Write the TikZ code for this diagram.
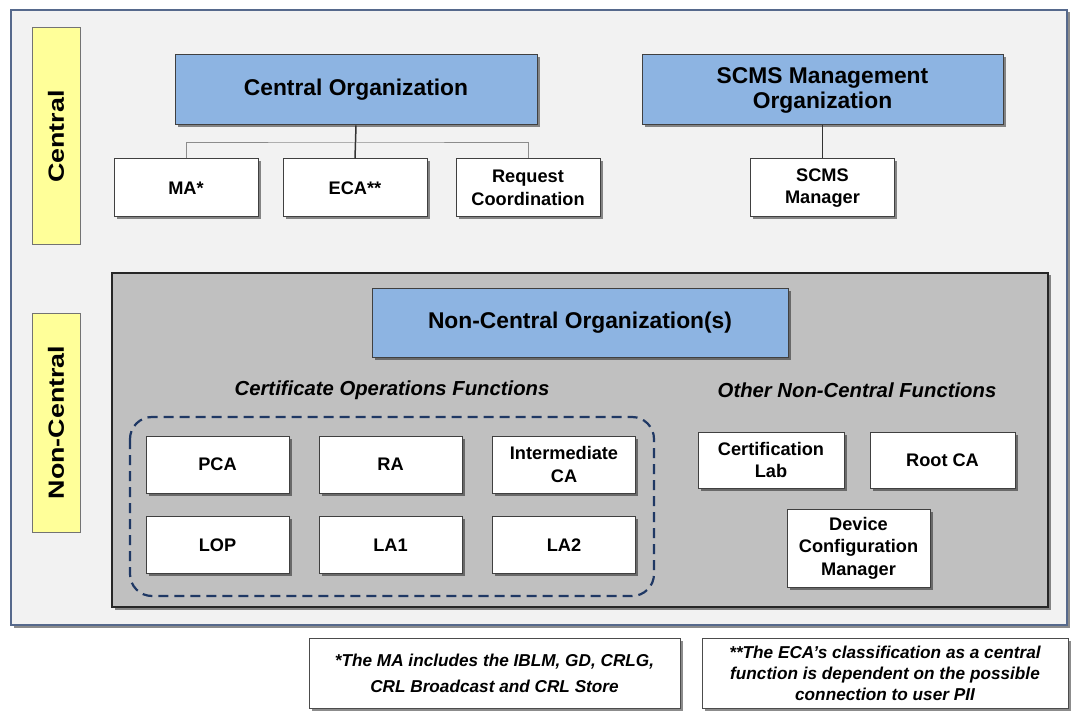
\documentclass[tikz,border=0pt]{standalone}
\usepackage{fontspec}
\setmainfont{Liberation Sans}
\usepackage{xcolor}
\usepackage{graphicx}
\usetikzlibrary{positioning, shadows}

\definecolor{framefill}{HTML}{F2F2F2}
\definecolor{frameline}{HTML}{56698C}
\definecolor{tieryellow}{HTML}{FFFF99}
\definecolor{orgblue}{HTML}{8DB4E2}
\definecolor{panelgray}{HTML}{C0C0C0}
\definecolor{dashblue}{HTML}{1F3864}

\newcommand{\tiertext}[1]{\scalebox{1.22}[1]{#1}}

\begin{document}
\begin{tikzpicture}[x=1pt, y=-1pt, every node/.style={inner sep=0pt, align=center},
    shade/.style={drop shadow={shadow xshift=2.5pt, shadow yshift=-2.5pt, opacity=0.45, fill=black}},
    tier/.style={draw=black!55, fill=tieryellow, line width=1pt, rotate=90, minimum height=48pt,
        font=\bfseries\fontsize{22}{26}\selectfont},
    orgbox/.style={shade, draw=black!75, fill=orgblue, line width=1pt, minimum height=70pt,
        font=\bfseries\fontsize{22.8}{25}\selectfont},
    funcbox/.style={shade, draw=black!75, fill=white, line width=1pt, minimum width=144pt, minimum height=57pt,
        font=\bfseries\fontsize{18.2}{22.5}\selectfont},
    grouplabel/.style={font=\bfseries\itshape\fontsize{20.3}{22}\selectfont},
    notebox/.style={shade, draw=black!70, fill=white, line width=1pt, minimum height=70pt,
        font=\bfseries\itshape\fontsize{17.2}{21}\selectfont}]
    \useasboundingbox (0,0) rectangle (1073,719);

    % Outer frame
    \draw[frameline, line width=2pt, fill=framefill, shade] (11,10) rectangle (1067,625);

    % Tier labels
    \node[tier, minimum width=217pt] (central) at (56,136.5) {\tiertext{Central}};
    \node[tier, minimum width=219pt] (noncentral) at (56,422.5) {\tiertext{Non-Central}};

    % Central organizations
    \node[orgbox, minimum width=362pt] (corg) at (356,90) {Central Organization};
    \node[orgbox, minimum width=361pt] (smo) at (822.5,90) {SCMS Management\\Organization};

    % Central functions
    \foreach \n/\t/\x in {ma/MA*/186, eca/ECA**/355, reqc/{Request\\Coordination}/528, smgr/{SCMS\\Manager}/822.5} {
        \node[funcbox, minimum height=58pt] (\n) at (\x,188) {\t};
    }
    \coordinate (bus) at (355,143);
    \draw[black!45, line width=1pt] (ma.north) |- (bus) -| (reqc.north);
    \draw[black!80, line width=1.5pt] (corg.south) -- (eca.north);
    \draw[black!80, line width=1.5pt] (smo.south) -- (smgr.north);

    % Non-central panel
    \draw[black!85, line width=1.5pt, fill=panelgray, shade] (112,273) rectangle (1048,607);
    \node[orgbox, minimum width=416pt, minimum height=69pt] (ncorg) at (580,322.5) {Non-Central Organization(s)};
    \node[grouplabel] (certops) at (392,390) {Certificate Operations Functions};
    \node[grouplabel] (otherfn) at (857,390) {Other Non-Central Functions};

    % Certificate operations group
    \draw[dashblue, line width=2.2pt, dash pattern=on 10pt off 6pt, rounded corners=22pt] (130,417) rectangle (654,596);
    \foreach \n/\t/\x/\y in {pca/PCA/217.5/464.5, ra/RA/390.5/464.5, ica/{Intermediate\\CA}/564/464.5,
                            lop/LOP/217.5/545, laone/LA1/390.5/545, latwo/LA2/564/545} {
        \node[funcbox, minimum width=143pt] (\n) at (\x,\y) {\t};
    }

    % Other non-central functions
    \node[funcbox, minimum width=146pt, minimum height=56pt] (clab) at (771,460) {Certification\\Lab};
    \node[funcbox, minimum width=145pt, minimum height=56pt] (rootca) at (942.5,460.5) {Root CA};
    \node[funcbox, minimum width=143pt, minimum height=78pt] (dcm) at (858.5,548) {Device\\Configuration\\Manager};

    % Footnotes
    \node[notebox, minimum width=371pt] (note1) at (494.5,673) {*The MA includes the IBLM, GD, CRLG,\\[5pt]CRL Broadcast and CRL Store};
    \node[notebox, minimum width=366pt] (note2) at (885,673) {**The ECA's classification as a central\\function is dependent on the possible\\connection to user PII};
\end{tikzpicture}
\end{document}
